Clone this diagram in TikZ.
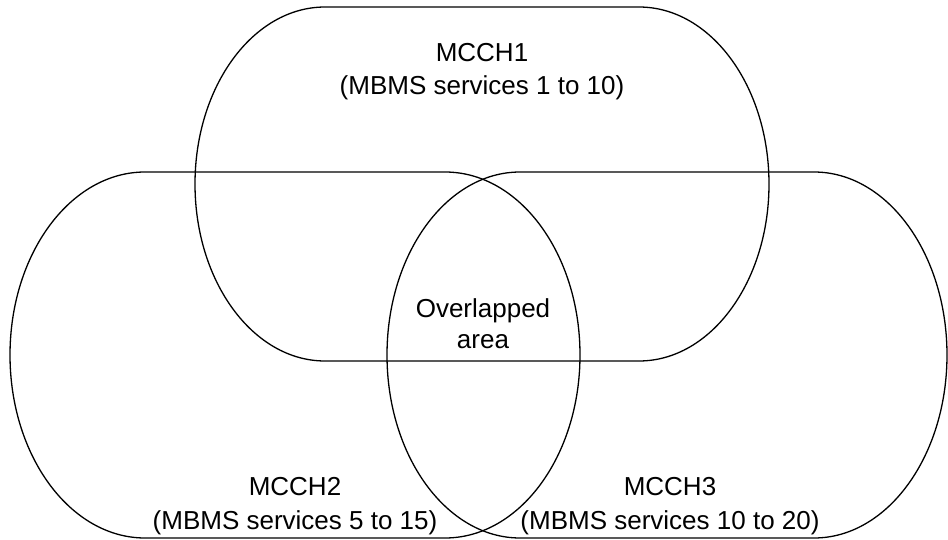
\documentclass[tikz,border=0pt]{standalone}
\usepackage{fontspec}
\setmainfont{Liberation Sans}
\tikzset{
  zone/.style={draw=black, line width=1.3pt},
  lbl/.style={anchor=base, inner sep=0pt, font=\fontsize{26}{32}\selectfont}
}
\begin{document}
\begin{tikzpicture}[x=1pt,y=1pt]
\useasboundingbox (0,0) rectangle (948,-540);
% MCCH1
\draw[zone] (325,-7) -- (639,-7) arc[start angle=90,end angle=-90,x radius=130,y radius=177]
  -- (325,-361) arc[start angle=270,end angle=90,x radius=130,y radius=177] -- cycle;
% MCCH2
\draw[zone] (145,-172) -- (445,-172) arc[start angle=90,end angle=-90,x radius=135,y radius=183]
  -- (145,-538) arc[start angle=270,end angle=90,x radius=135,y radius=183] -- cycle;
% MCCH3
\draw[zone] (520,-172) -- (814,-172) arc[start angle=90,end angle=-90,x radius=133,y radius=183]
  -- (520,-538) arc[start angle=270,end angle=90,x radius=133,y radius=183] -- cycle;
% labels
\node[lbl] (m1a) at (482,-62) {MCCH1};
\node[lbl] (m1b) at (482,-95) {(MBMS services 1 to 10)};
\node[lbl] (ova) at (483,-317) {Overlapped};
\node[lbl] (ovb) at (483,-348) {area};
\node[lbl] (m2a) at (295,-495) {MCCH2};
\node[lbl] (m2b) at (295,-529) {(MBMS services 5 to 15)};
\node[lbl] (m3a) at (670,-495) {MCCH3};
\node[lbl] (m3b) at (670,-529) {(MBMS services 10 to 20)};
\end{tikzpicture}
\end{document}
